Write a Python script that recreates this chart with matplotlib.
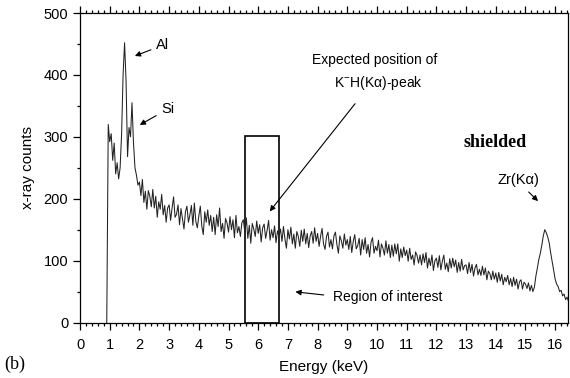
import numpy as np
import matplotlib
matplotlib.use("Agg")
import matplotlib.pyplot as plt
from matplotlib.ticker import MultipleLocator
from matplotlib.patches import Rectangle

plt.rcParams['font.family'] = ['Liberation Sans', 'DejaVu Sans']
plt.rcParams['mathtext.fontset'] = 'custom'
plt.rcParams['mathtext.rm'] = 'Liberation Sans'

# --- spectrum, channels every 0.05 keV starting at 0.90 keV
e_start = 0.90
e_step = 0.05

counts_al_si = [0, 320, 292, 305, 262, 290, 240, 258, 232, 250,
                305, 400, 452, 390, 268, 315, 300, 355, 290, 250, 238, 222]
counts_2_to_6 = [227, 205, 231, 194, 212, 183, 213, 204, 187, 215,
                 185, 204, 170, 195, 183, 207, 174, 189, 162, 185,
                 190, 165, 185, 203, 170, 175, 190, 158, 184, 168,
                 151, 179, 188, 162, 174, 189, 157, 193, 163, 153,
                 172, 188, 156, 142, 179, 162, 182, 157, 173, 147,
                 170, 142, 174, 155, 185, 147, 160, 136, 168, 161,
                 146, 171, 150, 166, 137, 173, 145, 155, 139, 161,
                 166, 146, 169, 136, 157, 128, 160, 151, 139, 164]
counts_6_to_10 = [144, 158, 130, 153, 159, 136, 149, 165, 133, 150,
                  137, 156, 129, 148, 140, 151, 131, 155, 135, 120,
                  150, 135, 154, 127, 143, 120, 147, 139, 123, 149,
                  131, 151, 127, 144, 121, 140, 147, 128, 153, 131,
                  144, 123, 139, 152, 127, 118, 139, 146, 122, 134,
                  119, 140, 146, 126, 112, 140, 132, 120, 143, 125,
                  134, 118, 139, 113, 131, 142, 119, 124, 136, 109,
                  134, 118, 137, 112, 126, 106, 130, 137, 112, 123]
counts_10_to_14 = [116, 133, 106, 127, 120, 109, 132, 112, 126, 105,
                   125, 107, 127, 111, 127, 99, 119, 105, 122, 108,
                   117, 99, 120, 102, 109, 93, 114, 108, 96, 109,
                   93, 111, 97, 113, 88, 104, 92, 109, 84, 100,
                   104, 89, 108, 85, 99, 109, 86, 96, 82, 103,
                   88, 104, 90, 101, 81, 97, 83, 102, 85, 92,
                   93, 79, 97, 81, 94, 75, 88, 94, 77, 86,
                   76, 91, 77, 88, 69, 83, 79, 69, 83, 70]
counts_14_to_end = [80, 65, 81, 67, 78, 61, 73, 66, 76, 61,
                    71, 58, 73, 60, 70, 54, 66, 69, 54, 65,
                    62, 55, 64, 51, 60, 50, 57, 75, 88, 102,
                    112, 125, 140, 150, 145, 138, 128, 112, 98, 84,
                    70, 62, 58, 50, 52, 43, 46, 37, 41, 34]

counts = np.array(counts_al_si + counts_2_to_6 + counts_6_to_10
                  + counts_10_to_14 + counts_14_to_end)
energy = e_start + e_step*np.arange(len(counts))

roi = (5.55, 6.71)      # region of interest, keV
roi_top = 302

fig = plt.figure(figsize=(5.7, 3.78), dpi=100)
ax = fig.add_axes([0.1404, 0.1468, 0.856, 0.8188])

ax.plot(energy, counts, color='#222222', lw=0.75)
ax.add_patch(Rectangle((roi[0], 0), roi[1]-roi[0], roi_top,
                       fill=False, ec='k', lw=1.2))

ax.set_xlim(0, 16.43)
ax.set_ylim(0, 500)
ax.set_xticks(range(0, 17))
ax.xaxis.set_minor_locator(MultipleLocator(0.2))
ax.yaxis.set_major_locator(MultipleLocator(100))
ax.yaxis.set_minor_locator(MultipleLocator(50))
ax.tick_params(which='both', direction='out', top=True, right=False,
               labeltop=False, labelsize=10.5, width=0.9)
ax.tick_params(which='major', length=5)
ax.tick_params(which='minor', length=2.5)
ax.tick_params(axis='x', pad=6)
for s in ax.spines.values():
    s.set_linewidth(0.9)

ax.set_xlabel('Energy (keV)', fontsize=11, labelpad=6)
ax.set_ylabel('x-ray counts', fontsize=11, labelpad=6)

arw = dict(arrowstyle='-|>', color='k', lw=0.8, mutation_scale=8)
ax.annotate('Al', xy=(1.76, 429), xytext=(2.79, 448), fontsize=10.5,
            ha='center', va='center', arrowprops=arw)
ax.annotate('Si', xy=(1.93, 317), xytext=(2.96, 345), fontsize=10.5,
            ha='center', va='center', arrowprops=arw)
ax.text(9.93, 424, 'Expected position of', fontsize=10, ha='center', va='center')
ax.text(10.05, 387, 'K$^{-}$H(Kα)-peak', fontsize=10, ha='center', va='center')
ax.annotate('', xy=(6.33, 176), xytext=(9.32, 357), arrowprops=arw)
ax.text(8.52, 41, 'Region of interest', fontsize=10, ha='left', va='center')
ax.annotate('', xy=(7.16, 50), xytext=(8.30, 44), arrowprops=arw)
ax.text(14.75, 230, 'Zr(Kα)', fontsize=10.5, ha='center', va='center')
ax.annotate('', xy=(15.49, 193), xytext=(15.04, 214), arrowprops=arw)
ax.text(13.97, 290, 'shielded', fontsize=13, fontweight='bold',
        family='Liberation Serif', ha='center', va='center')

fig.text(0.008, 0.036, '(b)', fontsize=13, family='Liberation Serif',
         ha='left', va='center')

fig.savefig('out.png', dpi=100)
